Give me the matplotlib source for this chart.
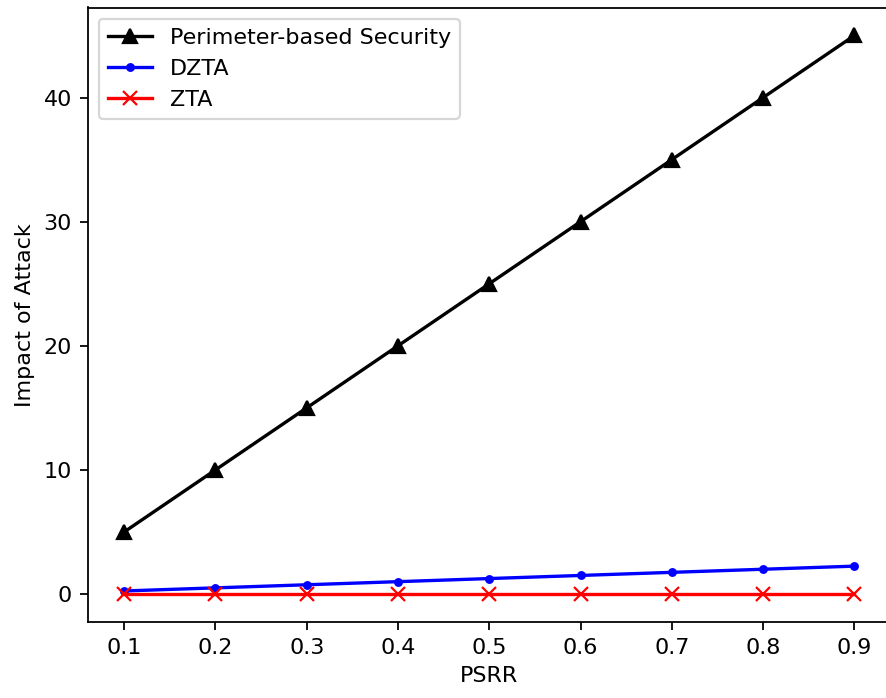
import matplotlib
matplotlib.use("Agg")
import matplotlib.pyplot as plt

psrr = [0.1, 0.2, 0.3, 0.4, 0.5, 0.6, 0.7, 0.8, 0.9]
perimeter = [5, 10, 15, 20, 25, 30, 35, 40, 45]
dzta = [0.25, 0.5, 0.75, 1.0, 1.25, 1.5, 1.75, 2.0, 2.25]
zta = [0, 0, 0, 0, 0, 0, 0, 0, 0]

W, H, DPI = 886, 698, 160
fig = plt.figure(figsize=(W / DPI, H / DPI), dpi=DPI)
left, right, top, bottom = 87.6, 891, 7.5, 622
ax = fig.add_axes([left / W, (H - bottom) / H, (right - left) / W, (bottom - top) / H])
ax.plot(psrr, perimeter, color="black", marker="^", label="Perimeter-based Security")
ax.plot(psrr, dzta, color="blue", marker=".", label="DZTA")
ax.plot(psrr, zta, color="red", marker="x", label="ZTA")
ax.set_xticks(psrr)
ax.set_xlabel("PSRR")
ax.set_ylabel("Impact of Attack")
ax.legend(loc="upper left")
fig.savefig("out.png", dpi=DPI)
